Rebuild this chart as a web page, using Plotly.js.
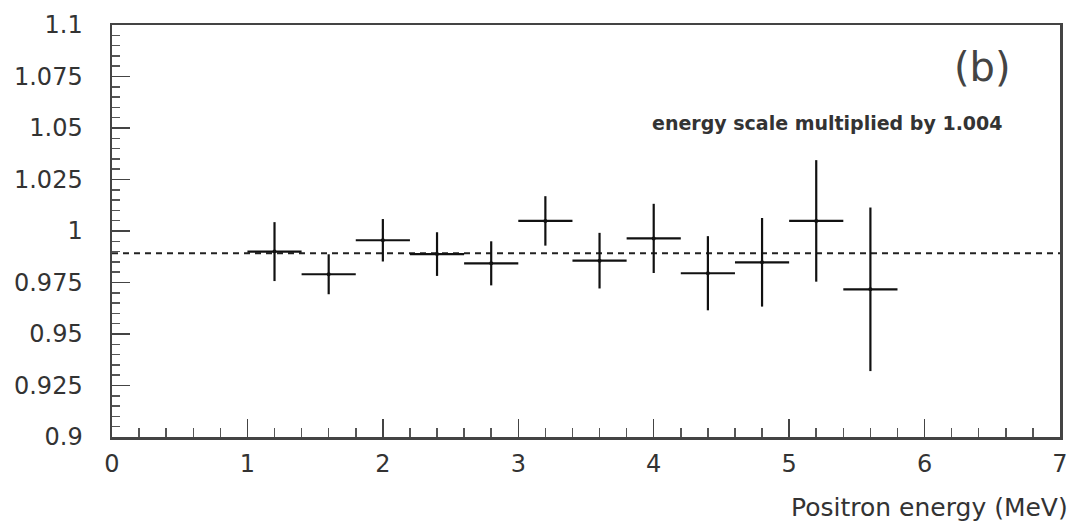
<!DOCTYPE html>
<html>
<head>
<meta charset="utf-8">
<script src="https://cdn.plot.ly/plotly-3.0.1.min.js"></script>
<style>
html,body{margin:0;padding:0;background:#fff;}
#chart{width:1075px;height:528px;}
</style>
</head>
<body>
<div id="chart"></div>
<script>
// Data
const energy = [1.2, 1.6, 2.0, 2.4, 2.8, 3.2, 3.6, 4.0, 4.4, 4.8, 5.2, 5.6];
const ratio  = [0.990, 0.979, 0.9955, 0.9888, 0.9843, 1.0049, 0.9856, 0.9964, 0.9795, 0.9848, 1.0049, 0.9717];
const ratioErr = [0.0143, 0.0097, 0.0103, 0.0106, 0.0107, 0.012, 0.0135, 0.0168, 0.018, 0.0215, 0.0295, 0.0397];
const binHalfWidth = [0.2, 0.2, 0.2, 0.2, 0.2, 0.2, 0.2, 0.2, 0.2, 0.2, 0.2, 0.2];
const fitX = [0, 7];
const fitY = [0.9892, 0.9892];
const yTickVals = [0.9, 0.925, 0.95, 0.975, 1, 1.025, 1.05, 1.075, 1.1];
const yTickText = ['0.9', '0.925', '0.95', '0.975', '1', '1.025', '1.05', '1.075', '1.1'];
const xTickVals = [0, 1, 2, 3, 4, 5, 6, 7];

const font = 'DejaVu Sans, sans-serif';

const traces = [
  {
    x: fitX, y: fitY, type: 'scatter', mode: 'lines',
    line: {color: '#222', width: 2.2, dash: '6px,5px'},
    hoverinfo: 'skip', showlegend: false
  },
  {
    x: energy, y: ratio, type: 'scatter', mode: 'markers',
    marker: {color: '#111', size: 4},
    error_y: {type: 'data', array: ratioErr, visible: true, color: '#111', thickness: 2.2, width: 0},
    error_x: {type: 'data', array: binHalfWidth, visible: true, color: '#111', thickness: 2.2, width: 0},
    showlegend: false
  }
];

const layout = {
  width: 1075, height: 528,
  margin: {l: 112, r: 15, t: 25, b: 91, pad: 0},
  paper_bgcolor: '#fff', plot_bgcolor: '#fff',
  font: {family: font, color: '#333'},
  xaxis: {
    range: [0, 7], tickvals: xTickVals, ticktext: xTickVals.map(String),
    showgrid: false, zeroline: false,
    showline: true, linecolor: '#444', linewidth: 2.5, mirror: true,
    ticks: 'inside', ticklen: 18, tickwidth: 1.5, tickcolor: '#444',
    minor: {dtick: 0.2, ticks: 'inside', ticklen: 9, tickwidth: 1.5, tickcolor: '#555', showgrid: false},
    tickfont: {size: 24, family: font, color: '#333'},
    ticklabelstandoff: 4
  },
  yaxis: {
    range: [0.9, 1.1], tickvals: yTickVals, ticktext: yTickText,
    showgrid: false, zeroline: false,
    showline: true, linecolor: '#444', linewidth: 2.5, mirror: true,
    ticks: 'inside', ticklen: 18, tickwidth: 1.5, tickcolor: '#444',
    minor: {dtick: 0.005, ticks: 'inside', ticklen: 8, tickwidth: 1.5, tickcolor: '#555', showgrid: false},
    tickfont: {size: 24, family: font, color: '#333'},
    ticklabelstandoff: 22
  },
  annotations: [
    {
      text: 'Positron energy (MeV)', xref: 'paper', yref: 'paper',
      x: 1.011, y: -0.17, xanchor: 'right', yanchor: 'middle', showarrow: false,
      font: {size: 25, family: font, color: '#333'}
    },
    {
      text: '(b)', xref: 'x', yref: 'y', x: 6.43, y: 1.0795,
      xanchor: 'center', yanchor: 'middle', showarrow: false,
      font: {size: 40, family: 'DejaVu Sans, sans-serif', color: '#444'}
    },
    {
      text: '<b>energy scale multiplied by 1.004</b>', xref: 'x', yref: 'y', x: 5.28, y: 1.0524,
      xanchor: 'center', yanchor: 'middle', showarrow: false,
      font: {size: 19, family: font, color: '#333'}
    }
  ]
};

Plotly.newPlot('chart', traces, layout, {staticPlot: true, displayModeBar: false});
</script>
</body>
</html>
